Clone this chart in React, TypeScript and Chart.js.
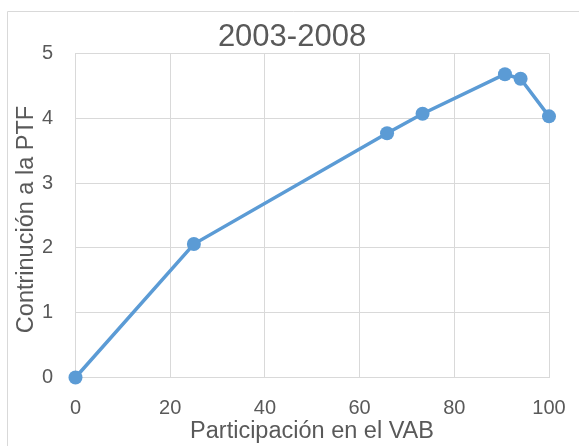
import React, { useEffect, useRef } from "react";
import { Chart, registerables } from "chart.js";

Chart.register(...registerables);

const titleText = "2003-2008";
const xTitle = "Participación en el VAB";
const yTitle = "Contrinución a la PTF";
const xValues = [0, 25, 65.8, 73.3, 90.7, 94, 100];
const yValues = [0, 2.06, 3.77, 4.07, 4.68, 4.61, 4.03];

const FONT = "'Liberation Sans', Arial, sans-serif";
const TEXT = "#595959";
const GRID = "#d9d9d9";
const BLUE = "#5b9bd5";

export default function App() {
  const ref = useRef<HTMLCanvasElement | null>(null);
  useEffect(() => {
    document.body.style.margin = "0";
    const decor = {
      id: "decor",
      beforeDraw(chart: any) {
        const ctx = chart.ctx;
        ctx.save();
        ctx.strokeStyle = GRID;
        ctx.lineWidth = 1;
        ctx.beginPath();
        ctx.moveTo(7.5, 446);
        ctx.lineTo(7.5, 11.5);
        ctx.lineTo(579, 11.5);
        ctx.stroke();
        ctx.fillStyle = TEXT;
        ctx.textAlign = "center";
        ctx.textBaseline = "middle";
        ctx.font = `31px ${FONT}`;
        ctx.fillText(titleText, 292, 37);
        ctx.font = `23.5px ${FONT}`;
        ctx.fillText(xTitle, 312, 432);
        ctx.translate(27, 219.5);
        ctx.rotate(-Math.PI / 2);
        ctx.fillText(yTitle, 0, 0);
        ctx.restore();
      },
    };
    const chart = new Chart(ref.current as HTMLCanvasElement, {
      type: "scatter",
      data: {
        datasets: [
          {
            data: xValues.map((x, i) => ({ x, y: yValues[i] })),
            showLine: true,
            borderColor: BLUE,
            backgroundColor: BLUE,
            borderWidth: 3.5,
            pointRadius: 7,
            pointBorderWidth: 0,
            pointBackgroundColor: BLUE,
            clip: false as any,
          },
        ],
      },
      options: {
        responsive: false,
        animation: false,
        layout: { padding: { left: 0, right: 30, top: 53.5, bottom: 0 } },
        plugins: { legend: { display: false }, tooltip: { enabled: false }, title: { display: false } },
        scales: {
          x: {
            type: "linear",
            min: 0,
            max: 100,
            ticks: { stepSize: 20, color: TEXT, font: { family: FONT, size: 20 }, padding: 19 },
            grid: { color: GRID, drawTicks: false },
            border: { color: GRID },
            afterFit(scale: any) {
              scale.height = 68.5;
              scale.paddingLeft = 0;
              scale.paddingRight = 0;
            },
          },
          y: {
            min: 0,
            max: 5,
            ticks: { stepSize: 1, color: TEXT, font: { family: FONT, size: 20 }, padding: 22.5 },
            grid: { color: GRID, drawTicks: false },
            border: { color: GRID },
            afterFit(scale: any) {
              scale.width = 75.5;
              scale.paddingTop = 0;
              scale.paddingBottom = 0;
            },
          },
        },
      },
      plugins: [decor],
    });
    return () => chart.destroy();
  }, []);
  return (
    <div style={{ width: 579, height: 446 }}>
      <canvas ref={ref} width={579} height={446} />
    </div>
  );
}
